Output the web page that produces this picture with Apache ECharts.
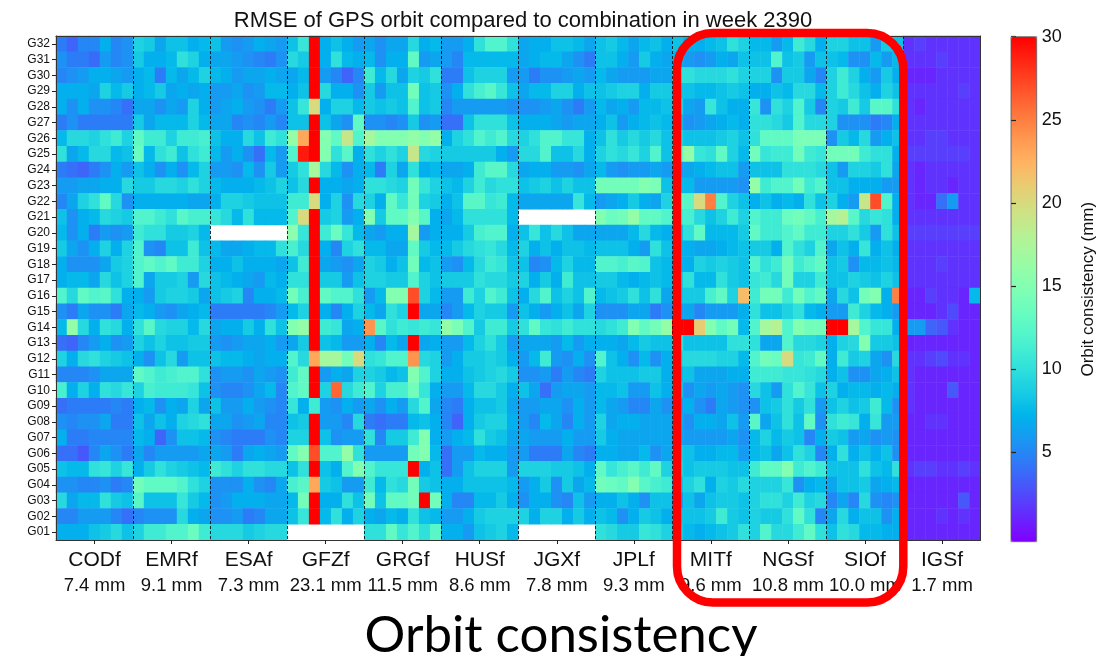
<!DOCTYPE html>
<html><head><meta charset="utf-8">
<script src="https://cdn.jsdelivr.net/npm/echarts@6/dist/echarts.min.js"></script>
<style>html,body{margin:0;padding:0;background:#fff}#c{width:1118px;height:656px}</style>
</head><body><div id="c"></div>
<script>
// ---------------- data ----------------
const centers = ['CODf','EMRf','ESAf','GFZf','GRGf','HUSf','JGXf','JPLf','MITf','NGSf','SIOf','IGSf'];
const centerRms = ['7.4 mm','9.1 mm','7.3 mm','23.1 mm','11.5 mm','8.6 mm','7.8 mm','9.3 mm','9.6 mm','10.8 mm','10.0 mm','1.7 mm'];
const days = ['Sun','Mon','Tue','Wed','Thu','Fri','Sat'];
const satellites = ['G01','G02','G03','G04','G05','G06','G07','G08','G09','G10','G11','G12','G13','G14','G15','G16',
                    'G17','G18','G19','G20','G21','G22','G23','G24','G25','G26','G27','G28','G29','G30','G31','G32'];
const colorbarTicks = [5,10,15,20,25,30];
const N = null;
const NA = [N,N,N,N,N,N,N];
// each center: rows listed from G32 (top) down to G01 (bottom), 7 daily values per row (mm)
const CODf = [
[4.5,3.5,5,5,7,5,5.5],[5.5,4.5,4.5,3.8,6,5,5.5],[5,5.5,6,7,7,6.5,6],[7,7,7,6.5,9,7.5,8.5],
[7,5.5,7,5.5,5.5,5,4],[4.5,5.5,4.5,4.5,4.5,4.5,4.5],[7.5,9.5,9.5,9,10,11,9],[10,6.5,7.5,9.5,9.5,7.5,8],
[4.5,4,3.5,4.5,5.5,7,6],[6,6,6.5,6.5,7,7,9.5],[5,6.5,9,10,13,9.5,5.5],[8,5.5,7,7.5,9.5,9,8.5],
[7.5,5.5,7,4.5,6,5.5,6],[8.5,6.5,5.5,7,9,7,9],[7,5.5,5.5,5.5,6.5,8.5,9],[7,7.5,7.5,6.5,9.5,8,9],
[12,9.5,13,12,12.5,10,7],[5.5,4.5,6.5,5.5,5.5,4.5,6.5],[7.5,16,9.5,7,10,9.5,7],[4,3.5,5,6,7,5.5,6],
[9,7,9.5,10,9,8.5,8],[5,5,5,5.5,6.5,6.5,6.5],[11.5,7,9,7,10,9.5,10.5],[4,4.5,4.5,4.5,4.5,5,4.5],
[5.5,5,5.5,5.5,6.5,4.5,4.5],[7,4.5,4.5,5,5,5,5],[4,4,3,5,6.5,5.5,4.5],[8,7.5,7.5,10,10.5,9,10.5],
[5.5,5.5,5,5,5.5,4.5,5],[9.5,6.5,7.5,7.5,10,8.5,8],[5,5,6,6,6,5,4],[7,7,7,8,8.5,9.5,8]];
const EMRf = [
[9,8.5,6.5,8,8,7,7.5],[8.5,7,7,7.5,10,9,7],[7,7.5,4.5,7.5,6.5,7.5,9],[7,7.5,8.5,6.5,7,6.5,7],
[6.5,6.5,5.5,6.5,6,9,7],[8.5,6.5,7.5,7.5,7.5,9,7.5],[13,11,11,9,11,11,11.5],[13.5,7.5,10,11,8,10,11],
[8,7,5.5,7,5.5,7.5,9],[8.5,8.5,9.5,9.5,9,10,9],[7,7,7,7,7,6.5,6.5],[12,12,11,10,12.5,11.5,11.5],
[11,10,10,8.5,8.5,9,7.5],[12,5.5,5,8,8,11,8],[12,13,12,13,11,11,9],[12,6.5,8.5,8.5,9,6,9.5],
[7,6,8.5,9,9,8.5,6.5],[7.5,7,6,5.5,6.5,7,7.5],[10,12.5,9.5,9,9,7.5,9.5],[9,8,9,8,8,8.5,8.5],
[7,5.5,8,9.5,6,8,8],[13,12,11,11.5,12,12,10],[9,11.5,11,11,11,10.5,8],[7,7.5,5.5,7,6.5,9,6.5],
[8,6.5,8,7,9,9.5,10],[7.5,7,3.5,5.5,8,8,7.5],[6.5,5,6,6,6,6,6.5],[7,8.5,10,9,8.5,8,7.5],
[14,13,13,13,12,10,9],[12.5,8,8,8,10.5,8.5,7.5],[5,5.5,5.5,5.5,9.5,7,6.5],[9,11,11,12,12,13.5,11]];
const ESAf = [
[8,6,5.5,6,7,6.5,6],[6.5,6.5,6,5.5,5,4.5,5.5],[7.5,7,6,6.5,6.5,7,6.5],[6,6,6.5,5.5,6,7.5,7.5],
[6,6.5,7,6,5.5,4.5,6],[6.5,6.5,5,5.5,5,6,5],[8,7,7,9.5,8,11,10],[7.5,6,7,5.5,4,7.5,6],
[6,6,5.5,7.5,5.5,8.5,6],[7.5,7,7,7,7.5,8,9],[7,9,9,8.5,8,8,8],[10.5,9.5,7.5,10,7.5,7.5,7.5],
NA,[7.5,6.5,6.5,7,7.5,7.5,10],[7,7,8,7,7,7,6.5],[8,7.5,7,6.5,6,7.5,7],
[8,8.5,9,5,7,7,7.5],[4.5,4.5,4.5,4.5,4.5,5,6],[6.5,7,7,8.5,7,10,8],[6,5.5,6,6.5,6.5,7,6],
[8,7.5,7.5,7,6.5,7,7],[5.5,6,6,5.5,6.5,6,5.5],[5.5,5,5,5.5,6.5,7.5,5],[8,6,6,7,6,5.5,5],
[6.5,6.5,5.5,6,6.5,5,5],[5.5,5,4.5,4.5,4.5,5.5,5],[6.5,6,4.5,6.5,7,6.5,6],[11,10,9,10,10,9.5,9.5],
[5.5,5.5,5.5,7,5.5,5,6.5],[5.5,6,7,7,7,6.5,6.5],[5.5,5.5,6,4.5,5,6.5,6.5],[9.5,9.5,9.5,8.5,9,9.5,9.5]];
const GFZf = [
[8,10.5,30,7,8,7,6],[9.5,8.5,30,7,10,7.5,7],[6.5,7.5,30,6,5,3.5,5],[7,8,30,9.5,7,7,5.5],
[8,10.5,20,7,9,9,7.5],[8,8,30,8,6.5,5.5,13],[16,23,30,15,13,19,12],[12,29,30,15,10,12.5,7],
[8.5,10,17,9.5,7.5,5.5,7],[8,9.5,30,7,7,6.5,7],[11,11,20,7,9,5.5,9.5],[12,20,30,8.5,9,6,7],
[15.5,10.5,30,11,13.5,10.5,7.5],[11.5,9.5,30,7,5,9,10],[8,11,30,6.5,6,5.5,6.5],[10,10,30,8.5,8.5,6,8],
[14,11.5,30,13,12,12,10],[7.5,9,30,7,5,7,9],[15,16,30,11,10.5,6.5,7],[6.5,8.5,30,8,7.5,6,6],
[12,9.5,23,17,17,14,20],[11,13,30,6,7,6.5,9],[12,13,30,9,26,9.5,11],[10.5,7,11,6,5.5,7,6],
[8,8.5,30,6,6,5,9.5],[9,9,30,8,5.5,6,6],[13,15,27,12,12,16,10],[8,10,30,8,7,12,15],
[11.5,12.5,23,8.5,8,6,6],[7.5,14,30,7,7,10,8],[8,10.5,30,7.5,10,7,9],NA];
const GRGf = [
[6.5,5.5,6.5,6.5,9.5,7,7.5],[7.5,5.5,7,7,13,6,6.5],[11,7.5,9.5,6.5,9,8.5,10],[8.5,6,8,8,14,8,8.5],
[8.5,8,8.5,8,12,8,8.5],[5.5,5.5,5,5.5,8.5,5.5,6],[17,15,15,15,16,15,16],[10,9,10,9,19,9.5,9],
[7.5,4.5,9,6.5,10,7,7.5],[10,10,9.5,9,14,10.5,9],[9,7,13,10.5,14,9,8.5],[15,8.5,13,13,15,12.5,7],
[6.5,6,7,7,17,6,7],[7.5,7.5,6.5,6.5,13,8.5,7.5],[9,8.5,7,8,14,7.5,8],[9,9,8.5,8.5,12,9,8],
[6,7.5,15,15,27,9,7.5],[7.5,6.5,10,9,30,6.5,6.5],[24,12.5,10,11,10.5,11,10.5],[7,5,7.5,6.5,30,6.5,7],
[10,10.5,12,12,24,9.5,9],[9,8.5,7.5,8,15,12,9],[12,9,11.5,11.5,14,10.5,7],[6.5,5.5,7,6,9.5,12,6.5],
[4.5,4,4.5,4.5,7.5,8,7],[10,5,8.5,8.5,11,15,7],[6,6,6,6,14,15,7.5],[12,10.5,10.5,10.5,30,7,8],
[11,7.5,10,9.5,14,8.5,8],[14,8,13,13,14,30,14],[7,6.5,7.5,7,10,8,7.5],[10,10,13,10.5,12,10,12.5]];
const HUSf = [
[6,6,7,10,12,12,10],[6,5,7.5,7.5,7.5,7.5,7.5],[4.5,4.5,8,9,9,9,6],[5.5,7,10,11.5,12.5,10.5,8],
[5,6,6,6,6,6,5.5],[4,4,8,10,10,10,8],[7,9,10,12,11,12,9.5],[8.5,8.5,8.5,8.5,8.5,7,6],
[6.5,6.5,7,11,12.5,12.5,9.5],[8,7.5,9,11,9.5,10,10],[7,8,12.5,12.5,10.5,11,7.5],[6.5,7.5,10,10,10,10,7.5],
[7,7,8.5,11.5,12,12,7],[7.5,8.5,9.5,10,10.5,9.5,7.5],[6,5.5,7.5,9.5,11,10.5,8],[8.5,8.5,8.5,10,9.5,9.5,8.5],
[6,6,11,9,12,11,8],[5,6,7.5,9,8.5,8.5,6],[16,14.5,12,8.5,11,11,8.5],[6,6,7.5,9,10,8.5,6],
[6,7,8.5,8.5,9,8.5,7],[7,7,8,8.5,9,9.5,8.5],[6,6,7.5,9.5,9.5,8.5,7],[5,4.5,7,8,8,8.5,6.5],
[5,3.5,7,8.5,9,9,7],[6,7,7.5,10,8.5,8,6.5],[4,6,6,7.5,7,7,6],[4,6,8,9,9,9,6],
[7,7,8,8,8,8,7.5],[7,5,5,7.5,7.5,8.5,7],[6,6,7,8.5,9,9,9],[7,7,6,8,8.5,9,7.5]];
const JGXf = [
[6.5,7,7,8,8,7.5,6.5],[6.5,7,7.5,7.5,6.5,5.5,4.5],[6,4.5,5.5,5.5,6,6.5,6],[6.5,7.5,7.5,9,9,7,8],
[5.5,5.5,6,6.5,5.5,4.5,6],[7,7,7,6.5,6,6.5,6.5],[9,10,12,12,10.5,10.5,7],[9.5,9.5,12,8,8,9.5,7],
[6.5,7,7,6,6,5.5,6.5],[8,8.5,9,8,9,8,8],[6.5,6.5,6.5,6.5,6.5,10.5,7.5],NA,
[8,10.5,8,9.5,8,6.5,6.5],[9,7,8,7,8,8,7.5],[8,5,5.5,7.5,9,7.5,7.5],[9,7,8.5,7,11,8,8],
[7,9.5,12,8,9,8,12],[8,7,6,7,8,6.5,9],[10,13,10.5,10,11,10,10],[6.5,6.5,6.5,6,7.5,6,7],
[6,7.5,11,6,5.5,7,5.5],[5.5,5.5,6,4.5,6,5,4.5],[8,6.5,4,6,6.5,6.5,6],[6,6,6.5,6.5,5.5,7,6],
[6,5,7.5,6.5,5,7,6],[6.5,6,6,6,7,6,6],[6,4.5,4.5,4.5,6.5,5,4.5],[9,9,9,8.5,8.5,8,7],
[6,7,8.5,5.5,8.5,6.5,7.5],[5.5,7,7,5.5,5,8,6],[9,7,9,9,7,8.5,7],NA];
const JPLf = [
[8,8.5,7.5,6.5,7.5,8,7],[8,8,7,6,8.5,7,6.5],[7.5,6.5,6,6,6,6.5,6.5],[8,8.5,9,9,7,8.5,8.5],
[7.5,6.5,7,6,7.5,7.5,8],[7,8,6,7,7.5,8,7.5],[8,10,8.5,9.5,8.5,9.5,8],[9,10,9.5,10.5,9,12,8],
[7.5,6,5.5,6,6,6.5,6],[14,14,14,14,15,14.5,8],[6,6.5,7,8.5,7,6.5,9],[15,13.5,14,16,13,13,12],
[6.5,6.5,6.5,7.5,9.5,7.5,7],[8,8,8,7,6,10,8],[12,12,11.5,12.5,12,8,7.5],[8.5,8.5,7.5,7,7.5,8,7.5],
[7.5,8,8.5,10,8,10,6.5],[5.5,5.5,5.5,6.5,6.5,4.5,5.5],[9.5,10,11,15,13,14,16],[7,7,6.5,7.5,8.5,8,8],
[12,8,7,5.5,7.5,5.5,7],[9,8,8,8,8.5,8.5,7],[7.5,7.5,8,6,6,8,7],[7.5,6.5,6,5,5,6.5,5.5],
[9,6.5,7,7,6.5,6.5,6.5],[8.5,7,6.5,6.5,6.5,6.5,6.5],[7,7,6.5,6.5,7.5,5.5,6.5],[13,10.5,11.5,12.5,11,13,9],
[14,13.5,13,15,12.5,11.5,11],[7,7,8,7,5.5,8,8],[8,7.5,5.5,7,8.5,8,7],[10,9.5,8.5,8.5,10.5,10,9]];
const MITf = [
[8,7,7,7.5,8,10,9],[7,6,5.5,6,7,6.5,8],[10,10,9.5,9.5,9.5,10,9],[8,8,7.5,7.5,8,8.5,8],
[9,6.5,6,10.5,8,7,7],[7.5,5.5,6,6.5,7,7.5,7],[9,8,8,8,8.5,9,8],[13,16,10.5,10,13,9,7.5],
[6,6.5,7,7.5,8,8,6],[7.5,7.5,6,6,6,6,5.5],[13,12.5,20,25,12,9,8],[11,11.5,9.5,8,9,11,9],
[8,10,13,7.5,7.5,7.5,8.5],[7,7,6.5,6.5,7,7.5,8],[7,7,9,8.5,9,8.5,8],[8.5,10,7.5,7.5,10,8.5,8],
[8,8.5,8.5,11.5,13,9,22],[6,6.5,5,6,6,6,7],[30,30,21,15,13,14,7.5],[10,8,8,8,8,10,10],
[9,9.5,9.5,9.5,9,9,7.5],[7.5,8,6.5,6.5,6.5,7,7],[8,5.5,6.5,6,6.5,6,5.5],[6,7,5.5,4.5,6.5,6,5.5],
[7,5.5,7,7,6.5,8,6],[6.5,6,6,6,6,6.5,5.5],[8.5,8,7,7,7.5,7.5,6],[9,8,8.5,8.5,8.5,8,8],
[8,9,10,7,9,8.5,9.5],[6,8,6.5,8,8.5,8.5,8],[8,8,8,8.5,11,8.5,8],[8.5,7.5,7,7.5,8,8.5,10]];
const NGSf = [
[7.5,7.5,6,7.5,11,9.5,7],[8,8,12,8,8.5,6,8],[9,9,5.5,8.5,8.5,6.5,5],[7,7,8,7.5,9.5,9.5,7.5],
[10.5,5.5,10,9,12,8.5,5],[10,10,9.5,8.5,12,9.5,9.5],[10,13,13,13,14.5,14.5,14.5],[14,10.5,11,11,14,11,10.5],
[8,8,8,10,10,10,9.5],[16,11,12,12,14,11,12],[7,8,7,7.5,7,10,8],[12,11,11,13.5,14,13,11.5],
[13,11,11,12,13,11,11],[8.5,8.5,7,12,10,9,12],[12,10,11,14,11,12,13],[10.5,11,9.5,14,9,9,11],
[11,14,14,11,14,12,13],[10,8,8,9,10,7.5,7],[12,17,18,12,15,14,14],[10,6.5,6.5,12,9.5,9.5,9],
[12,14,13.5,20,10.5,11,13],[11,11,11,10.5,10.5,10,9.5],[9.5,8,6,10,12,10.5,8],[5.5,8,8.5,10,8.5,10,6],
[12.5,6.5,8,10,8,13,5.5],[7.5,9,7.5,8.5,8,5,7],[7.5,8,6.5,8,10,9,5],[11,13,13,15,11,12,11],
[9,9,9,10.5,5.5,7,7.5],[9,10,10,9,11,9,9.5],[9,8.5,8.5,10,13,10,5],[9,12,9.5,9.5,11,13,10]];
const SIOf = [
[9,9,8,8,6,8.5,8],[8,7.5,5.5,5.5,7.5,6,7.5],[9,11,9,7,6,8.5,7],[9,11,9.5,8,7,9,8],
[9,8.5,11,8.5,12.5,12.5,10],[9,5.5,5.5,5.5,4.5,5,7],[5.5,8.5,7.5,9.5,6,7,8],[14,14,14,11,10,10,7],
[8,6,9,9,8.5,10,6.5],[8,8,7,7,7,6,6],[9,7,6,19,27,12,7],[17,18,12.5,9.5,10.5,10,7],
[9,9,10,8.5,6,10,8],[6.5,8,7,10.5,7,8,7],[8,8.5,5.5,7.5,7.5,8,7.5],[8,8,9,8.5,8,9,8],
[6.5,9.5,8,14,15,7,25],[6,6,11,9,7.5,7,6],[30,30,17,12,10.5,10.5,7],[7,9,9.5,15,8.5,8.5,8],
[7,11,8.5,9,6.5,5.5,9.5],[7,8,5.5,5.5,6.5,7,8],[9,7,7.5,7.5,7,7.5,7],[8,9,8,8.5,11,7.5,5.5],
[10,11,10.5,7,10.5,6,6],[8.5,8,6,6.5,5.5,6,5.5],[7,10,7,8,7,8,5.5],[8,8,8,10,8,7.5,10],
[6.5,8,8,8.5,6.5,7,7.5],[5,6.5,5,9.5,5.5,5,5.5],[6.5,9.5,7,8,8,5.5,7],[8,10,9.5,7.5,7.5,7,7]];
const IGSf = [
[1.5,2,1.5,1.5,1.5,1.5,1.5],[1.5,1.5,1.5,2,1.5,1.5,1.5],[1,1,1,1.5,1.5,1.5,1.5],[1.5,1.5,1.5,1.5,1.5,2,1.5],
[1.5,1,1.5,1.5,1.5,1.5,1.5],[1.5,1.5,1.5,1.5,1.5,1.5,1.5],[1.5,1.5,2,2,1.5,1.5,1.5],[2,2,2,2,2,2,1.5],
[1.5,1,1.5,1.5,1.5,1.5,1.5],[1.5,1,1.5,1.5,1,1.5,1.5],[1.5,1,1,4,6,1.5,1.5],[1.5,1.5,1.5,1.5,1.5,1.5,1.5],
[2,2,2,2,2,2,2],[1.5,1.5,1.5,1.5,1.5,1.5,1.5],[1.5,1.5,1.5,2,1.5,1.5,1.5],[1.5,1.5,1.5,1.5,1.5,1.5,1.5],
[1,1,2,1.5,1.5,1,7.5],[1,1,1,1.5,2.5,1,1],[6,6,3.5,3,1.5,1,1],[0.8,1,1,1,1,1,1],
[1.5,1.5,2,2.5,1.5,1.5,1],[1.5,1,1,1,1,1,1],[1.5,1,1,1,3,1,1],[1.5,1,1,1,1,1,1],
[1,1,1.5,1.5,1,1,1],[1,1,1,1,1,1,1],[1,1,1,1,1,1,1],[1.5,2,2,1.5,1.5,2,1.5],
[0.8,1,1,1,1,1,1],[1,1,1,1,1,3,1],[1,1,1,1.5,1,1.5,1],[1,1,1,1,1,1,1]];

// ---------------- build ----------------
const groupData = [CODf,EMRf,ESAf,GFZf,GRGf,HUSf,JGXf,JPLf,MITf,NGSf,SIOf,IGSf];
const columns = [];
centers.forEach(c => days.forEach(d => columns.push(c + ' ' + d)));
const cells = [];
groupData.forEach((g, gi) => g.forEach((row, ri) => row.forEach((v, d) => {
  if (v !== null) cells.push([gi * days.length + d, satellites.length - 1 - ri, v]);
})));

const rainbow = ['#8000ff','#6628fe','#4d4ffc','#3374f8','#1a96f3','#00b4ec','#1acee3','#33e3da','#4df3ce','#66fcc2',
                 '#80ffb4','#99fca5','#b3f396','#cce385','#e6ce74','#ffb462','#ff964f','#ff743b','#ff4f28','#ff2814','#ff0000'];
const FF = 'Liberation Sans, Arial, sans-serif';

const chart = echarts.init(document.getElementById('c'), null, {renderer: 'canvas'});
chart.setOption({
  animation: false,
  backgroundColor: '#fff',
  title: {text: 'RMSE of GPS orbit compared to combination in week 2390', left: 518, textAlign: 'center', top: 5,
          textStyle: {fontFamily: FF, fontSize: 22, fontWeight: 'normal', color: '#111'}},
  grid: [
    {left: 56, top: 36, width: 924.5, height: 504},
    {left: 1011, top: 36.7, width: 25.7, height: 505}
  ],
  xAxis: [
    {type: 'category', gridIndex: 0, data: columns, position: 'top', z: 5,
     axisLine: {show: true, lineStyle: {color: '#333', width: 1}}, axisTick: {show: false}, axisLabel: {show: false}, splitLine: {show: false}},
    {type: 'category', gridIndex: 0, data: centers, position: 'bottom', z: 5,
     axisLine: {show: true, lineStyle: {color: '#333', width: 1}},
     axisTick: {show: true, alignWithLabel: true, length: 4, lineStyle: {color: '#222'}},
     axisLabel: {margin: 8, interval: 0,
       formatter: (v, i) => '{a|' + v + '}\n{b|' + centerRms[i] + '}',
       rich: {a: {fontFamily: FF, fontSize: 21, lineHeight: 25, color: '#111'},
              b: {fontFamily: FF, fontSize: 18.5, lineHeight: 25, color: '#111'}}},
     splitLine: {show: true, lineStyle: {type: [3, 2], color: '#000', width: 0.8}}},
    {type: 'value', gridIndex: 1, show: false, min: 0, max: 1}
  ],
  yAxis: [
    {type: 'category', gridIndex: 0, data: satellites, z: 5,
     axisLine: {show: true, lineStyle: {color: '#333', width: 1}},
     axisTick: {show: true, alignWithLabel: true, length: 4, lineStyle: {color: '#222'}},
     axisLabel: {margin: 6, fontFamily: FF, fontSize: 12, color: '#111'}, splitLine: {show: false}},
    {type: 'category', gridIndex: 0, data: satellites, position: 'right', z: 5,
     axisLine: {show: true, lineStyle: {color: '#333', width: 1}}, axisTick: {show: false}, axisLabel: {show: false}},
    {type: 'value', gridIndex: 1, position: 'right', min: -0.4, max: 30, z: 5,
     axisLine: {show: false}, splitLine: {show: false},
     axisTick: {show: true, inside: false, length: 5, customValues: colorbarTicks, lineStyle: {color: '#222', width: 1.2}},
     axisLabel: {show: true, customValues: colorbarTicks, margin: 5, fontFamily: FF, fontSize: 18, color: '#111'},
     name: 'Orbit consistency (mm)', nameLocation: 'middle', nameRotate: 90, nameGap: 43,
     nameTextStyle: {fontFamily: FF, fontSize: 17, color: '#111'}}
  ],
  visualMap: {
    type: 'continuous', min: -0.4, max: 30, dimension: 2, seriesIndex: 0, show: true,
    left: 1011, top: 36.7, itemWidth: 25.7, itemHeight: 505, padding: 0, calculable: false, hoverLink: false,
    inRange: {color: rainbow}
  },
  series: [{
    type: 'heatmap', xAxisIndex: 0, yAxisIndex: 0, data: cells, z: 2,
    itemStyle: {borderWidth: 0}, emphasis: {disabled: true}, progressive: 0
  }],
  graphic: [
    {type: 'rect', z: 50, silent: true, shape: {x: 1011, y: 36.7, width: 25.7, height: 505},
     style: {fill: null, stroke: '#555', lineWidth: 0.8}},
    {type: 'rect', z: 100, silent: true, shape: {x: 677, y: 33, width: 226.3, height: 569.5, r: 36},
     style: {fill: null, stroke: '#ff0000', lineWidth: 8.5}},
    {type: 'text', z: 100, silent: true, x: 561, y: 636,
     style: {text: 'Orbit consistency', fontFamily: 'Lato, sans-serif', fontSize: 51, fill: '#000', textAlign: 'center', textVerticalAlign: 'middle'}}
  ]
});
</script></body></html>
